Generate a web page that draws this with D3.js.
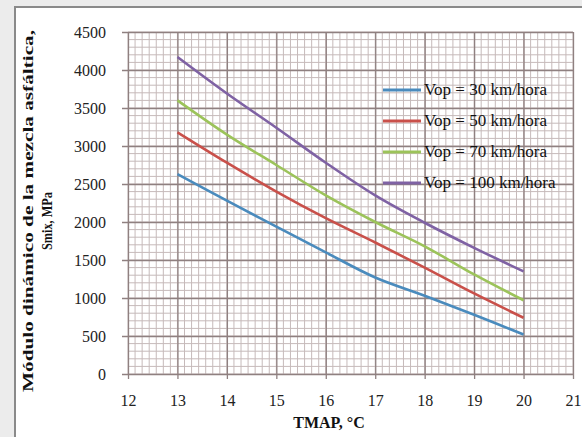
<!DOCTYPE html>
<html>
<head>
<meta charset="utf-8">
<script src="https://cdn.jsdelivr.net/npm/d3@7"></script>
<style>
  body { margin: 0; background: #ececec; }
  svg { display: block; }
</style>
</head>
<body>
<svg class="chart"></svg>
<script>
// ----- Data -----
let temps = [13, 14, 15, 16, 17, 18, 19, 20]
let v30 = [2630, 2280, 1940, 1600, 1270, 1030, 780, 520]
let v50 = [3180, 2780, 2400, 2050, 1730, 1400, 1060, 740]
let v70 = [3600, 3150, 2750, 2350, 2000, 1680, 1310, 970]
let v100 = [4170, 3690, 3240, 2780, 2350, 1990, 1660, 1350]
let seriesNames = ['Vop = 30 km/hora', 'Vop = 50 km/hora', 'Vop = 70 km/hora', 'Vop = 100 km/hora']
let xTicks = [12, 13, 14, 15, 16, 17, 18, 19, 20, 21]
let yTicks = [0, 500, 1000, 1500, 2000, 2500, 3000, 3500, 4000, 4500]

let series = [v30, v50, v70, v100]
let colors = ['#4a8bbd', '#c9504a', '#9cc35a', '#7f62a4']

// SVG
let svgWidth = 582
let svgHeight = 437
let svg = d3.select('.chart')
            .attr('width', svgWidth)
            .attr('height', svgHeight)

// frame
svg.append('rect')
   .attr('x', 15).attr('y', 7)
   .attr('width', svgWidth).attr('height', svgHeight)
   .attr('fill', '#fff')
   .attr('stroke', '#8a8a8a')
   .attr('stroke-width', 2)

let plotLeft = 128, plotRight = 573, plotTop = 32, plotBottom = 374
let x = d3.scaleLinear().domain([12, 21]).range([plotLeft, plotRight])
let y = d3.scaleLinear().domain([0, 4500]).range([plotBottom, plotTop])

let serif = '"Liberation Serif", "Times New Roman", serif'

// minor grid
let minorX = d3.range(0, 9 * 7 + 1).map(function (i) { return 12 + i / 7 })
let minorY = d3.range(0, 4501, 100)
svg.append('g').selectAll('line')
   .data(minorX)
   .enter()
   .append('line')
   .attr('x1', function (d) { return x(d) })
   .attr('x2', function (d) { return x(d) })
   .attr('y1', plotTop).attr('y2', plotBottom)
   .attr('stroke', '#c6baba')
   .attr('stroke-width', 1)
svg.append('g').selectAll('line')
   .data(minorY)
   .enter()
   .append('line')
   .attr('y1', function (d) { return y(d) })
   .attr('y2', function (d) { return y(d) })
   .attr('x1', plotLeft).attr('x2', plotRight)
   .attr('stroke', '#c6baba')
   .attr('stroke-width', 1)

// major grid + axes
let xAxis = d3.axisBottom(x).tickValues(xTicks).tickFormat(d3.format('d')).tickSizeOuter(0).tickPadding(10)
let yAxis = d3.axisLeft(y).tickValues(yTicks).tickFormat(d3.format('d')).tickSizeOuter(0).tickPadding(10)

let gx = svg.append('g')
            .attr('transform', 'translate(0,' + (plotBottom + 5) + ')')
            .call(xAxis)
let gy = svg.append('g')
            .attr('transform', 'translate(' + (plotLeft - 6) + ',0)')
            .call(yAxis)
// grid lines extend from the tick side
gx.selectAll('.tick line').attr('y1', 0).attr('y2', -(plotBottom - plotTop) - 5)
gy.selectAll('.tick line').attr('x1', 0).attr('x2', plotRight - plotLeft + 6)
gx.select('.domain').remove()
gy.select('.domain').remove()
svg.selectAll('.tick line').attr('stroke', '#8f8080').attr('stroke-width', 1.3)
svg.selectAll('.tick text')
   .attr('font-family', serif)
   .attr('font-size', '16px')
   .attr('fill', '#222')

// Lines
let line = d3.line()
             .x(function (d, i) { return x(temps[i]) })
             .y(function (d) { return y(d) })
             .curve(d3.curveCatmullRom)

svg.append('g').selectAll('path')
   .data(series)
   .enter()
   .append('path')
   .attr('d', line)
   .attr('fill', 'none')
   .attr('stroke', function (d, i) { return colors[i] })
   .attr('stroke-width', 2.6)

// Legend
let legend = svg.append('g').selectAll('g')
                .data(seriesNames)
                .enter()
                .append('g')
                .attr('transform', function (d, i) {
                   return 'translate(383,' + (90 + i * 31) + ')'
                })
legend.append('line')
      .attr('x1', 0).attr('x2', 38)
      .attr('stroke', function (d, i) { return colors[i] })
      .attr('stroke-width', 2.8)
legend.append('text')
      .attr('x', 41)
      .attr('y', 5)
      .text(function (d) { return d })
      .attr('font-family', serif)
      .attr('font-size', '17px')
      .attr('fill', '#111')

// Axis titles
svg.append('text')
   .attr('x', 329).attr('y', 428)
   .attr('text-anchor', 'middle')
   .text('TMAP, °C')
   .attr('font-family', serif)
   .attr('font-weight', 'bold')
   .attr('font-size', '16px')
   .attr('fill', '#111')

svg.append('text')
   .attr('transform', 'translate(33,211) rotate(-90)')
   .attr('text-anchor', 'middle')
   .text('Módulo dinámico de la mezcla asfáltica,')
   .attr('textLength', 362)
   .attr('lengthAdjust', 'spacingAndGlyphs')
   .attr('font-family', serif)
   .attr('font-weight', 'bold')
   .attr('font-size', '14px')
   .attr('fill', '#111')
svg.append('text')
   .attr('transform', 'translate(52,221) rotate(-90)')
   .attr('text-anchor', 'middle')
   .text('Smix, MPa')
   .attr('textLength', 58)
   .attr('lengthAdjust', 'spacingAndGlyphs')
   .attr('font-family', serif)
   .attr('font-weight', 'bold')
   .attr('font-size', '14px')
   .attr('fill', '#111')
</script>
</body>
</html>
